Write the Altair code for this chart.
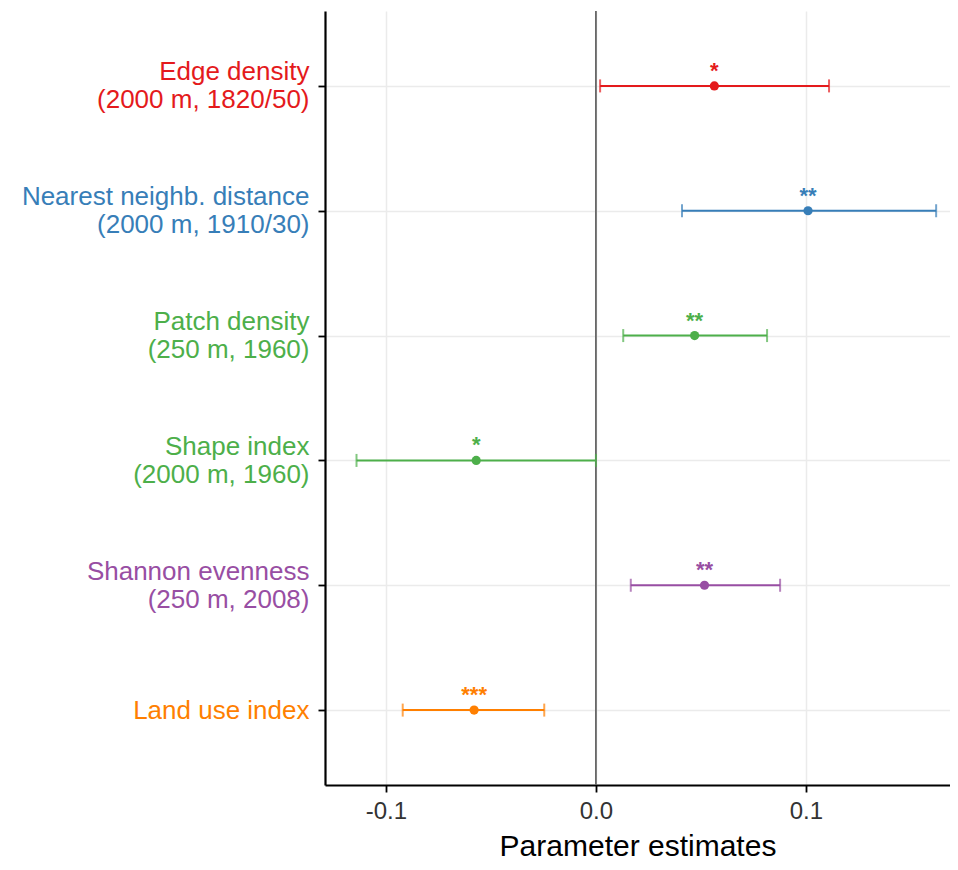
import altair as alt
import pandas as pd

labels = [
    "Edge density|(2000 m, 1820/50)",
    "Nearest neighb. distance|(2000 m, 1910/30)",
    "Patch density|(250 m, 1960)",
    "Shape index|(2000 m, 1960)",
    "Shannon evenness|(250 m, 2008)",
    "Land use index",
]
estimates = [0.0564, 0.101, 0.047, -0.057, 0.0517, -0.058]
lower = [0.002, 0.041, 0.013, -0.114, 0.0166, -0.092]
upper = [0.111, 0.162, 0.0815, 0.000, 0.0877, -0.0246]
stars = ["*", "**", "**", "*", "**", "***"]
colors = ["#E41A1C", "#377EB8", "#4DAF4A", "#4DAF4A", "#984EA3", "#FF7F00"]
x_ticks = [-0.1, 0.0, 0.1]

df = pd.DataFrame({
    "label": labels,
    "est": estimates,
    "lo": lower,
    "hi": upper,
    "star": stars,
})
zero_df = pd.DataFrame({"z": [0.0]})

FONT = "Liberation Sans"

label_color = {
    "condition": [
        {"test": f"datum.value == '{lab}'", "value": c}
        for lab, c in zip(labels, colors)
    ],
    "value": "black",
}
label_offset = {
    "condition": {"test": "indexof(datum.value, '|') >= 0", "value": -14},
    "value": 0,
}

xscale = alt.Scale(domain=[-0.129, 0.1686], nice=False, zero=False)
yscale = alt.Scale(type="point", padding=0.6, domain=labels)

base = alt.Chart(df)

y_enc = alt.Y(
    "label:N",
    scale=yscale,
    sort=labels,
    axis=alt.Axis(
        title=None,
        labelExpr="split(datum.label, '|')",
        labelColor=label_color,
        labelOffset=label_offset,
        labelFontSize=26,
        labelLineHeight=28,
        labelFont=FONT,
        labelPadding=9,
        labelLimit=500,
        tickColor="black",
        tickSize=7,
        tickWidth=1.8,
        domainColor="black",
        domainWidth=2.2,
        grid=True,
        gridColor="#ebebeb",
        gridWidth=1.5,
    ),
)

x_enc = alt.X(
    "lo:Q",
    scale=xscale,
    axis=alt.Axis(
        title="Parameter estimates",
        values=x_ticks,
        labelExpr="replace(format(datum.value, '.1f'), '\u2212', '-')",
        labelFontSize=24,
        labelFont=FONT,
        labelColor="#333333",
        labelBaseline="alphabetic",
        labelPadding=26,
        titleFontSize=30,
        titleFont=FONT,
        titleFontWeight="normal",
        titleColor="black",
        titleBaseline="alphabetic",
        titleY=70,
        tickColor="black",
        tickSize=7,
        tickWidth=1.8,
        domainColor="black",
        domainWidth=2.2,
        grid=True,
        gridColor="#ebebeb",
        gridWidth=1.5,
    ),
)

color_enc = alt.Color("label:N", scale=alt.Scale(domain=labels, range=colors), legend=None)
y_plain = alt.Y("label:N", scale=yscale, sort=labels)

zero_line = alt.Chart(zero_df).mark_rule(color="#666666", strokeWidth=1.8).encode(
    x=alt.X("z:Q", scale=xscale)
)

bars = base.mark_rule(strokeWidth=2).encode(
    x=x_enc,
    x2="hi:Q",
    y=y_enc,
    color=color_enc,
)

cap_lo = base.mark_tick(orient="vertical", size=13, thickness=2).encode(
    x=alt.X("lo:Q", scale=xscale), y=y_plain, color=color_enc
)
cap_hi = base.mark_tick(orient="vertical", size=13, thickness=2).encode(
    x=alt.X("hi:Q", scale=xscale), y=y_plain, color=color_enc
)

points = base.mark_circle(size=85, opacity=1).encode(
    x=alt.X("est:Q", scale=xscale),
    y=y_plain,
    color=color_enc,
)

star_text = base.mark_text(dy=-15, fontSize=22, fontWeight="bold", font=FONT).encode(
    x=alt.X("est:Q", scale=xscale),
    y=y_plain,
    text="star:N",
    color=color_enc,
)

chart = (
    alt.layer(zero_line, bars, cap_lo, cap_hi, points, star_text)
    .properties(
        width=625,
        height=774,
        background="white",
        autosize=alt.AutoSizeParams(type="none"),
        padding={"left": 317, "top": 3, "right": 0, "bottom": 75},
    )
    .configure_view(stroke=None)
)

chart.save("out.html", embed_options={"renderer": "svg", "actions": False})
